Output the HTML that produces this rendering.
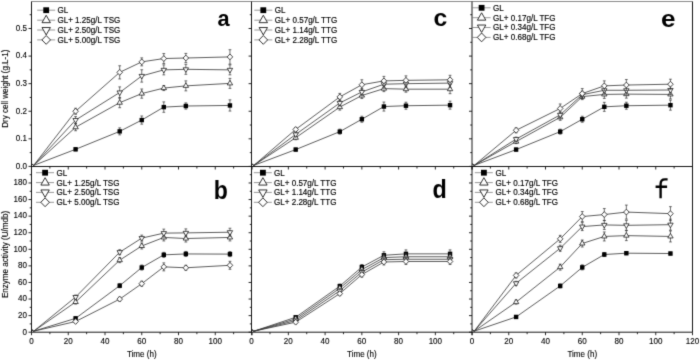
<!DOCTYPE html>
<html><head><meta charset="utf-8"><title>Growth and enzyme activity</title>
<style>
html,body{margin:0;padding:0;background:#fff;}
body{width:700px;height:360px;overflow:hidden;}
svg{display:block;}
text{font-family:"Liberation Sans",sans-serif;fill:#111;}
.lg{font-size:8.4px;fill:#000;stroke:#000;stroke-width:0.15px;}
.tl{font-size:8.4px;fill:#000;stroke:#000;stroke-width:0.12px;}
.pl{font-weight:bold;fill:#000;}
</style></head><body>
<svg width="700" height="360" viewBox="0 0 700 360"><defs><filter id="bl" x="0" y="0" width="700" height="360" filterUnits="userSpaceOnUse" color-interpolation-filters="sRGB"><feConvolveMatrix order="3" kernelMatrix="0.0144 0.0912 0.0144 0.0912 0.5776 0.0912 0.0144 0.0912 0.0144" divisor="1" edgeMode="duplicate"/></filter></defs><g filter="url(#bl)"><rect width="700" height="360" fill="#fff"/><polyline points="31.9,164 33.7,165.4 75.6,149.3 119.7,131.37 141.75,120.07 163.8,107.1 185.85,106 229.95,105.45" fill="none" stroke="#333333" stroke-width="0.8"/><polyline points="31.9,164 33.7,165.4 75.6,127.24 119.7,102.69 141.75,93.59 163.8,88.07 185.85,85.87 229.95,83.38" fill="none" stroke="#333333" stroke-width="0.8"/><polyline points="31.9,164 33.7,165.4 75.6,120.07 119.7,92.49 141.75,75.94 163.8,69.87 185.85,69.32 229.95,69.87" fill="none" stroke="#333333" stroke-width="0.8"/><polyline points="31.9,164 33.7,165.4 75.6,111.24 119.7,72.35 141.75,61.87 163.8,58.56 185.85,58.01 229.95,56.91" fill="none" stroke="#333333" stroke-width="0.8"/><path d="M75.6 147.8V150.8M74.2 147.8H77M74.2 150.8H77" stroke="#333" stroke-width="0.7" fill="none"/><path d="M119.7 127.87V134.87M118.3 127.87H121.1M118.3 134.87H121.1" stroke="#333" stroke-width="0.7" fill="none"/><path d="M141.75 115.97V124.17M140.35 115.97H143.15M140.35 124.17H143.15" stroke="#333" stroke-width="0.7" fill="none"/><path d="M163.8 101.9V112.3M162.4 101.9H165.2M162.4 112.3H165.2" stroke="#333" stroke-width="0.7" fill="none"/><path d="M185.85 102.9V109.1M184.45 102.9H187.25M184.45 109.1H187.25" stroke="#333" stroke-width="0.7" fill="none"/><path d="M229.95 99.85V111.05M228.55 99.85H231.35M228.55 111.05H231.35" stroke="#333" stroke-width="0.7" fill="none"/><rect x="73.4" y="147.1" width="4.4" height="4.4" fill="#000"/><rect x="117.5" y="129.17" width="4.4" height="4.4" fill="#000"/><rect x="139.55" y="117.87" width="4.4" height="4.4" fill="#000"/><rect x="161.6" y="104.9" width="4.4" height="4.4" fill="#000"/><rect x="183.65" y="103.8" width="4.4" height="4.4" fill="#000"/><rect x="227.75" y="103.25" width="4.4" height="4.4" fill="#000"/><path d="M75.6 123.74V130.74M74.2 123.74H77M74.2 130.74H77" stroke="#333" stroke-width="0.7" fill="none"/><path d="M119.7 97.69V107.69M118.3 97.69H121.1M118.3 107.69H121.1" stroke="#333" stroke-width="0.7" fill="none"/><path d="M141.75 88.99V98.19M140.35 88.99H143.15M140.35 98.19H143.15" stroke="#333" stroke-width="0.7" fill="none"/><path d="M163.8 85.57V90.57M162.4 85.57H165.2M162.4 90.57H165.2" stroke="#333" stroke-width="0.7" fill="none"/><path d="M185.85 80.87V90.87M184.45 80.87H187.25M184.45 90.87H187.25" stroke="#333" stroke-width="0.7" fill="none"/><path d="M229.95 78.38V88.38M228.55 78.38H231.35M228.55 88.38H231.35" stroke="#333" stroke-width="0.7" fill="none"/><polygon points="75.6,124.17 78.3,128.77 72.9,128.77" fill="#fff" stroke="#111" stroke-width="0.75"/><polygon points="119.7,99.62 122.4,104.22 117,104.22" fill="#fff" stroke="#111" stroke-width="0.75"/><polygon points="141.75,90.52 144.45,95.12 139.05,95.12" fill="#fff" stroke="#111" stroke-width="0.75"/><polygon points="163.8,85.01 166.5,89.61 161.1,89.61" fill="#fff" stroke="#111" stroke-width="0.75"/><polygon points="185.85,82.8 188.55,87.4 183.15,87.4" fill="#fff" stroke="#111" stroke-width="0.75"/><polygon points="229.95,80.32 232.65,84.92 227.25,84.92" fill="#fff" stroke="#111" stroke-width="0.75"/><path d="M75.6 116.57V123.57M74.2 116.57H77M74.2 123.57H77" stroke="#333" stroke-width="0.7" fill="none"/><path d="M119.7 86.89V98.09M118.3 86.89H121.1M118.3 98.09H121.1" stroke="#333" stroke-width="0.7" fill="none"/><path d="M141.75 69.74V82.14M140.35 69.74H143.15M140.35 82.14H143.15" stroke="#333" stroke-width="0.7" fill="none"/><path d="M163.8 64.87V74.87M162.4 64.87H165.2M162.4 74.87H165.2" stroke="#333" stroke-width="0.7" fill="none"/><path d="M185.85 64.32V74.32M184.45 64.32H187.25M184.45 74.32H187.25" stroke="#333" stroke-width="0.7" fill="none"/><path d="M229.95 64.87V74.87M228.55 64.87H231.35M228.55 74.87H231.35" stroke="#333" stroke-width="0.7" fill="none"/><polygon points="75.6,123.13 78.3,118.53 72.9,118.53" fill="#fff" stroke="#111" stroke-width="0.75"/><polygon points="119.7,95.55 122.4,90.95 117,90.95" fill="#fff" stroke="#111" stroke-width="0.75"/><polygon points="141.75,79 144.45,74.4 139.05,74.4" fill="#fff" stroke="#111" stroke-width="0.75"/><polygon points="163.8,72.94 166.5,68.34 161.1,68.34" fill="#fff" stroke="#111" stroke-width="0.75"/><polygon points="185.85,72.39 188.55,67.79 183.15,67.79" fill="#fff" stroke="#111" stroke-width="0.75"/><polygon points="229.95,72.94 232.65,68.34 227.25,68.34" fill="#fff" stroke="#111" stroke-width="0.75"/><path d="M75.6 108.24V114.24M74.2 108.24H77M74.2 114.24H77" stroke="#333" stroke-width="0.7" fill="none"/><path d="M119.7 65.75V78.95M118.3 65.75H121.1M118.3 78.95H121.1" stroke="#333" stroke-width="0.7" fill="none"/><path d="M141.75 57.87V65.87M140.35 57.87H143.15M140.35 65.87H143.15" stroke="#333" stroke-width="0.7" fill="none"/><path d="M163.8 53.56V63.56M162.4 53.56H165.2M162.4 63.56H165.2" stroke="#333" stroke-width="0.7" fill="none"/><path d="M185.85 53.41V62.61M184.45 53.41H187.25M184.45 62.61H187.25" stroke="#333" stroke-width="0.7" fill="none"/><path d="M229.95 49.71V64.11M228.55 49.71H231.35M228.55 64.11H231.35" stroke="#333" stroke-width="0.7" fill="none"/><polygon points="75.6,108.34 78.4,111.24 75.6,114.14 72.8,111.24" fill="#fff" stroke="#111" stroke-width="0.75"/><polygon points="119.7,69.45 122.5,72.35 119.7,75.25 116.9,72.35" fill="#fff" stroke="#111" stroke-width="0.75"/><polygon points="141.75,58.97 144.55,61.87 141.75,64.77 138.95,61.87" fill="#fff" stroke="#111" stroke-width="0.75"/><polygon points="163.8,55.66 166.6,58.56 163.8,61.46 161,58.56" fill="#fff" stroke="#111" stroke-width="0.75"/><polygon points="185.85,55.11 188.65,58.01 185.85,60.91 183.05,58.01" fill="#fff" stroke="#111" stroke-width="0.75"/><polygon points="229.95,54.01 232.75,56.91 229.95,59.81 227.15,56.91" fill="#fff" stroke="#111" stroke-width="0.75"/><line x1="37.2" y1="10.2" x2="55.2" y2="10.2" stroke="#999" stroke-width="1"/><rect x="43.3" y="7.3" width="5.8" height="5.8" fill="#000"/><text transform="translate(57.4 13.1) scale(0.96 1)" class="lg">GL</text><line x1="37.2" y1="20.2" x2="55.2" y2="20.2" stroke="#999" stroke-width="1"/><polygon points="46.2,15.27 50.4,22.67 42,22.67" fill="#fff" stroke="#111" stroke-width="0.85"/><text transform="translate(57.4 23.1) scale(0.96 1)" class="lg">GL+ 1.25g/L TSG</text><line x1="37.2" y1="30" x2="55.2" y2="30" stroke="#999" stroke-width="1"/><polygon points="46.2,34.93 50.4,27.53 42,27.53" fill="#fff" stroke="#111" stroke-width="0.85"/><text transform="translate(57.4 32.9) scale(0.96 1)" class="lg">GL+ 2.50g/L TSG</text><line x1="37.2" y1="39.9" x2="55.2" y2="39.9" stroke="#999" stroke-width="1"/><polygon points="46.2,35.5 50.5,39.9 46.2,44.3 41.9,39.9" fill="#fff" stroke="#111" stroke-width="0.85"/><text transform="translate(57.4 42.8) scale(0.96 1)" class="lg">GL+ 5.00g/L TSG</text><text transform="translate(217.41 26.13) scale(0.9691 1)" class="pl" font-size="22.45">a</text><polyline points="31.9,329.8 33.7,331.2 75.6,318.36 119.7,285.69 141.75,267.54 163.8,254.85 185.85,253.94 229.95,254.11" fill="none" stroke="#333333" stroke-width="0.8"/><polyline points="31.9,329.8 33.7,331.2 75.6,302.02 119.7,260.16 141.75,245.98 163.8,237.45 185.85,238.52 229.95,237.45" fill="none" stroke="#333333" stroke-width="0.8"/><polyline points="31.9,329.8 33.7,331.2 75.6,297.05 119.7,252.2 141.75,238.11 163.8,233.13 185.85,232.89 229.95,232.22" fill="none" stroke="#333333" stroke-width="0.8"/><polyline points="31.9,329.8 33.7,331.2 75.6,321.51 119.7,299.12 141.75,283.7 163.8,266.87 185.85,267.79 229.95,265.3" fill="none" stroke="#333333" stroke-width="0.8"/><path d="M75.6 316.86V319.86M74.2 316.86H77M74.2 319.86H77" stroke="#333" stroke-width="0.7" fill="none"/><path d="M119.7 283.69V287.69M118.3 283.69H121.1M118.3 287.69H121.1" stroke="#333" stroke-width="0.7" fill="none"/><path d="M141.75 265.04V270.04M140.35 265.04H143.15M140.35 270.04H143.15" stroke="#333" stroke-width="0.7" fill="none"/><path d="M163.8 252.35V257.35M162.4 252.35H165.2M162.4 257.35H165.2" stroke="#333" stroke-width="0.7" fill="none"/><path d="M185.85 251.44V256.44M184.45 251.44H187.25M184.45 256.44H187.25" stroke="#333" stroke-width="0.7" fill="none"/><path d="M229.95 251.61V256.61M228.55 251.61H231.35M228.55 256.61H231.35" stroke="#333" stroke-width="0.7" fill="none"/><rect x="73.4" y="316.16" width="4.4" height="4.4" fill="#000"/><rect x="117.5" y="283.49" width="4.4" height="4.4" fill="#000"/><rect x="139.55" y="265.34" width="4.4" height="4.4" fill="#000"/><rect x="161.6" y="252.65" width="4.4" height="4.4" fill="#000"/><rect x="183.65" y="251.74" width="4.4" height="4.4" fill="#000"/><rect x="227.75" y="251.91" width="4.4" height="4.4" fill="#000"/><path d="M75.6 300.02V304.02M74.2 300.02H77M74.2 304.02H77" stroke="#333" stroke-width="0.7" fill="none"/><path d="M119.7 257.66V262.66M118.3 257.66H121.1M118.3 262.66H121.1" stroke="#333" stroke-width="0.7" fill="none"/><path d="M141.75 242.98V248.98M140.35 242.98H143.15M140.35 248.98H143.15" stroke="#333" stroke-width="0.7" fill="none"/><path d="M163.8 233.95V240.95M162.4 233.95H165.2M162.4 240.95H165.2" stroke="#333" stroke-width="0.7" fill="none"/><path d="M185.85 235.02V242.02M184.45 235.02H187.25M184.45 242.02H187.25" stroke="#333" stroke-width="0.7" fill="none"/><path d="M229.95 233.95V240.95M228.55 233.95H231.35M228.55 240.95H231.35" stroke="#333" stroke-width="0.7" fill="none"/><polygon points="75.6,298.96 78.3,303.56 72.9,303.56" fill="#fff" stroke="#111" stroke-width="0.75"/><polygon points="119.7,257.09 122.4,261.69 117,261.69" fill="#fff" stroke="#111" stroke-width="0.75"/><polygon points="141.75,242.92 144.45,247.52 139.05,247.52" fill="#fff" stroke="#111" stroke-width="0.75"/><polygon points="163.8,234.38 166.5,238.98 161.1,238.98" fill="#fff" stroke="#111" stroke-width="0.75"/><polygon points="185.85,235.46 188.55,240.06 183.15,240.06" fill="#fff" stroke="#111" stroke-width="0.75"/><polygon points="229.95,234.38 232.65,238.98 227.25,238.98" fill="#fff" stroke="#111" stroke-width="0.75"/><path d="M75.6 295.05V299.05M74.2 295.05H77M74.2 299.05H77" stroke="#333" stroke-width="0.7" fill="none"/><path d="M119.7 249.7V254.7M118.3 249.7H121.1M118.3 254.7H121.1" stroke="#333" stroke-width="0.7" fill="none"/><path d="M141.75 235.11V241.11M140.35 235.11H143.15M140.35 241.11H143.15" stroke="#333" stroke-width="0.7" fill="none"/><path d="M163.8 229.13V237.13M162.4 229.13H165.2M162.4 237.13H165.2" stroke="#333" stroke-width="0.7" fill="none"/><path d="M185.85 228.89V236.89M184.45 228.89H187.25M184.45 236.89H187.25" stroke="#333" stroke-width="0.7" fill="none"/><path d="M229.95 228.22V236.22M228.55 228.22H231.35M228.55 236.22H231.35" stroke="#333" stroke-width="0.7" fill="none"/><polygon points="75.6,300.12 78.3,295.52 72.9,295.52" fill="#fff" stroke="#111" stroke-width="0.75"/><polygon points="119.7,255.27 122.4,250.67 117,250.67" fill="#fff" stroke="#111" stroke-width="0.75"/><polygon points="141.75,241.18 144.45,236.58 139.05,236.58" fill="#fff" stroke="#111" stroke-width="0.75"/><polygon points="163.8,236.2 166.5,231.6 161.1,231.6" fill="#fff" stroke="#111" stroke-width="0.75"/><polygon points="185.85,235.95 188.55,231.35 183.15,231.35" fill="#fff" stroke="#111" stroke-width="0.75"/><polygon points="229.95,235.29 232.65,230.69 227.25,230.69" fill="#fff" stroke="#111" stroke-width="0.75"/><path d="M75.6 320.01V323.01M74.2 320.01H77M74.2 323.01H77" stroke="#333" stroke-width="0.7" fill="none"/><path d="M119.7 297.12V301.12M118.3 297.12H121.1M118.3 301.12H121.1" stroke="#333" stroke-width="0.7" fill="none"/><path d="M141.75 281.2V286.2M140.35 281.2H143.15M140.35 286.2H143.15" stroke="#333" stroke-width="0.7" fill="none"/><path d="M163.8 262.87V270.87M162.4 262.87H165.2M162.4 270.87H165.2" stroke="#333" stroke-width="0.7" fill="none"/><path d="M185.85 265.29V270.29M184.45 265.29H187.25M184.45 270.29H187.25" stroke="#333" stroke-width="0.7" fill="none"/><path d="M229.95 261.3V269.3M228.55 261.3H231.35M228.55 269.3H231.35" stroke="#333" stroke-width="0.7" fill="none"/><polygon points="75.6,318.61 78.4,321.51 75.6,324.41 72.8,321.51" fill="#fff" stroke="#111" stroke-width="0.75"/><polygon points="119.7,296.22 122.5,299.12 119.7,302.02 116.9,299.12" fill="#fff" stroke="#111" stroke-width="0.75"/><polygon points="141.75,280.8 144.55,283.7 141.75,286.6 138.95,283.7" fill="#fff" stroke="#111" stroke-width="0.75"/><polygon points="163.8,263.97 166.6,266.87 163.8,269.77 161,266.87" fill="#fff" stroke="#111" stroke-width="0.75"/><polygon points="185.85,264.89 188.65,267.79 185.85,270.69 183.05,267.79" fill="#fff" stroke="#111" stroke-width="0.75"/><polygon points="229.95,262.4 232.75,265.3 229.95,268.2 227.15,265.3" fill="#fff" stroke="#111" stroke-width="0.75"/><line x1="36" y1="172.7" x2="54" y2="172.7" stroke="#999" stroke-width="1"/><rect x="42.2" y="169.8" width="5.8" height="5.8" fill="#000"/><text transform="translate(56.6 175.6) scale(0.96 1)" class="lg">GL</text><line x1="36" y1="182.6" x2="54" y2="182.6" stroke="#999" stroke-width="1"/><polygon points="45.1,177.67 49.3,185.07 40.9,185.07" fill="#fff" stroke="#111" stroke-width="0.85"/><text transform="translate(56.6 185.5) scale(0.96 1)" class="lg">GL+ 1.25g/L TSG</text><line x1="36" y1="192.4" x2="54" y2="192.4" stroke="#999" stroke-width="1"/><polygon points="45.1,197.33 49.3,189.93 40.9,189.93" fill="#fff" stroke="#111" stroke-width="0.85"/><text transform="translate(56.6 195.3) scale(0.96 1)" class="lg">GL+ 2.50g/L TSG</text><line x1="36" y1="202.3" x2="54" y2="202.3" stroke="#999" stroke-width="1"/><polygon points="45.1,197.9 49.4,202.3 45.1,206.7 40.8,202.3" fill="#fff" stroke="#111" stroke-width="0.85"/><text transform="translate(56.6 205.2) scale(0.96 1)" class="lg">GL+ 5.00g/L TSG</text><text transform="translate(213.83 199.1) scale(0.8898 1)" class="pl" font-size="25.87">b</text><polyline points="252,164 253.81,165.4 295.7,149.58 339.8,131.65 361.85,119.24 383.9,106.55 405.95,105.72 450.05,105.17" fill="none" stroke="#333333" stroke-width="0.8"/><polyline points="252,164 253.81,165.4 295.7,137.72 339.8,107.1 361.85,95.52 383.9,88.62 405.95,89.18 450.05,89.18" fill="none" stroke="#333333" stroke-width="0.8"/><polyline points="252,164 253.81,165.4 295.7,134.41 339.8,102.97 361.85,91.93 383.9,84.21 405.95,83.66 450.05,83.11" fill="none" stroke="#333333" stroke-width="0.8"/><polyline points="252,164 253.81,165.4 295.7,129.44 339.8,96.9 361.85,84.76 383.9,80.9 405.95,80.35 450.05,79.8" fill="none" stroke="#333333" stroke-width="0.8"/><path d="M295.7 148.08V151.08M294.3 148.08H297.1M294.3 151.08H297.1" stroke="#333" stroke-width="0.7" fill="none"/><path d="M339.8 129.15V134.15M338.4 129.15H341.2M338.4 134.15H341.2" stroke="#333" stroke-width="0.7" fill="none"/><path d="M361.85 116.24V122.24M360.45 116.24H363.25M360.45 122.24H363.25" stroke="#333" stroke-width="0.7" fill="none"/><path d="M383.9 102.05V111.05M382.5 102.05H385.3M382.5 111.05H385.3" stroke="#333" stroke-width="0.7" fill="none"/><path d="M405.95 102.22V109.22M404.55 102.22H407.35M404.55 109.22H407.35" stroke="#333" stroke-width="0.7" fill="none"/><path d="M450.05 101.17V109.17M448.65 101.17H451.45M448.65 109.17H451.45" stroke="#333" stroke-width="0.7" fill="none"/><rect x="293.5" y="147.38" width="4.4" height="4.4" fill="#000"/><rect x="337.6" y="129.45" width="4.4" height="4.4" fill="#000"/><rect x="359.65" y="117.04" width="4.4" height="4.4" fill="#000"/><rect x="381.7" y="104.35" width="4.4" height="4.4" fill="#000"/><rect x="403.75" y="103.52" width="4.4" height="4.4" fill="#000"/><rect x="447.85" y="102.97" width="4.4" height="4.4" fill="#000"/><path d="M295.7 135.72V139.72M294.3 135.72H297.1M294.3 139.72H297.1" stroke="#333" stroke-width="0.7" fill="none"/><path d="M339.8 104.1V110.1M338.4 104.1H341.2M338.4 110.1H341.2" stroke="#333" stroke-width="0.7" fill="none"/><path d="M361.85 92.52V98.52M360.45 92.52H363.25M360.45 98.52H363.25" stroke="#333" stroke-width="0.7" fill="none"/><path d="M383.9 85.62V91.62M382.5 85.62H385.3M382.5 91.62H385.3" stroke="#333" stroke-width="0.7" fill="none"/><path d="M405.95 86.18V92.18M404.55 86.18H407.35M404.55 92.18H407.35" stroke="#333" stroke-width="0.7" fill="none"/><path d="M450.05 84.68V93.68M448.65 84.68H451.45M448.65 93.68H451.45" stroke="#333" stroke-width="0.7" fill="none"/><polygon points="295.7,134.65 298.4,139.25 293,139.25" fill="#fff" stroke="#111" stroke-width="0.75"/><polygon points="339.8,104.04 342.5,108.64 337.1,108.64" fill="#fff" stroke="#111" stroke-width="0.75"/><polygon points="361.85,92.45 364.55,97.05 359.15,97.05" fill="#fff" stroke="#111" stroke-width="0.75"/><polygon points="383.9,85.56 386.6,90.16 381.2,90.16" fill="#fff" stroke="#111" stroke-width="0.75"/><polygon points="405.95,86.11 408.65,90.71 403.25,90.71" fill="#fff" stroke="#111" stroke-width="0.75"/><polygon points="450.05,86.11 452.75,90.71 447.35,90.71" fill="#fff" stroke="#111" stroke-width="0.75"/><path d="M295.7 132.41V136.41M294.3 132.41H297.1M294.3 136.41H297.1" stroke="#333" stroke-width="0.7" fill="none"/><path d="M339.8 99.97V105.97M338.4 99.97H341.2M338.4 105.97H341.2" stroke="#333" stroke-width="0.7" fill="none"/><path d="M361.85 88.43V95.43M360.45 88.43H363.25M360.45 95.43H363.25" stroke="#333" stroke-width="0.7" fill="none"/><path d="M383.9 80.21V88.21M382.5 80.21H385.3M382.5 88.21H385.3" stroke="#333" stroke-width="0.7" fill="none"/><path d="M405.95 79.66V87.66M404.55 79.66H407.35M404.55 87.66H407.35" stroke="#333" stroke-width="0.7" fill="none"/><path d="M450.05 78.61V87.61M448.65 78.61H451.45M448.65 87.61H451.45" stroke="#333" stroke-width="0.7" fill="none"/><polygon points="295.7,137.47 298.4,132.87 293,132.87" fill="#fff" stroke="#111" stroke-width="0.75"/><polygon points="339.8,106.03 342.5,101.43 337.1,101.43" fill="#fff" stroke="#111" stroke-width="0.75"/><polygon points="361.85,95 364.55,90.4 359.15,90.4" fill="#fff" stroke="#111" stroke-width="0.75"/><polygon points="383.9,87.28 386.6,82.68 381.2,82.68" fill="#fff" stroke="#111" stroke-width="0.75"/><polygon points="405.95,86.73 408.65,82.13 403.25,82.13" fill="#fff" stroke="#111" stroke-width="0.75"/><polygon points="450.05,86.18 452.75,81.58 447.35,81.58" fill="#fff" stroke="#111" stroke-width="0.75"/><path d="M295.7 127.44V131.44M294.3 127.44H297.1M294.3 131.44H297.1" stroke="#333" stroke-width="0.7" fill="none"/><path d="M339.8 93.4V100.4M338.4 93.4H341.2M338.4 100.4H341.2" stroke="#333" stroke-width="0.7" fill="none"/><path d="M361.85 79.76V89.76M360.45 79.76H363.25M360.45 89.76H363.25" stroke="#333" stroke-width="0.7" fill="none"/><path d="M383.9 76.4V85.4M382.5 76.4H385.3M382.5 85.4H385.3" stroke="#333" stroke-width="0.7" fill="none"/><path d="M405.95 75.85V84.85M404.55 75.85H407.35M404.55 84.85H407.35" stroke="#333" stroke-width="0.7" fill="none"/><path d="M450.05 75.3V84.3M448.65 75.3H451.45M448.65 84.3H451.45" stroke="#333" stroke-width="0.7" fill="none"/><polygon points="295.7,126.54 298.5,129.44 295.7,132.34 292.9,129.44" fill="#fff" stroke="#111" stroke-width="0.75"/><polygon points="339.8,94 342.6,96.9 339.8,99.8 337,96.9" fill="#fff" stroke="#111" stroke-width="0.75"/><polygon points="361.85,81.86 364.65,84.76 361.85,87.66 359.05,84.76" fill="#fff" stroke="#111" stroke-width="0.75"/><polygon points="383.9,78 386.7,80.9 383.9,83.8 381.1,80.9" fill="#fff" stroke="#111" stroke-width="0.75"/><polygon points="405.95,77.45 408.75,80.35 405.95,83.25 403.15,80.35" fill="#fff" stroke="#111" stroke-width="0.75"/><polygon points="450.05,76.9 452.85,79.8 450.05,82.7 447.25,79.8" fill="#fff" stroke="#111" stroke-width="0.75"/><line x1="254.3" y1="10.2" x2="272.3" y2="10.2" stroke="#999" stroke-width="1"/><rect x="260.4" y="7.3" width="5.8" height="5.8" fill="#000"/><text transform="translate(274.8 13.1) scale(0.96 1)" class="lg">GL</text><line x1="254.3" y1="20.2" x2="272.3" y2="20.2" stroke="#999" stroke-width="1"/><polygon points="263.3,15.27 267.5,22.67 259.1,22.67" fill="#fff" stroke="#111" stroke-width="0.85"/><text transform="translate(274.8 23.1) scale(0.96 1)" class="lg">GL+ 0.57g/L TTG</text><line x1="254.3" y1="30" x2="272.3" y2="30" stroke="#999" stroke-width="1"/><polygon points="263.3,34.93 267.5,27.53 259.1,27.53" fill="#fff" stroke="#111" stroke-width="0.85"/><text transform="translate(274.8 32.9) scale(0.96 1)" class="lg">GL+ 1.14g/L TTG</text><line x1="254.3" y1="39.9" x2="272.3" y2="39.9" stroke="#999" stroke-width="1"/><polygon points="263.3,35.5 267.6,39.9 263.3,44.3 259,39.9" fill="#fff" stroke="#111" stroke-width="0.85"/><text transform="translate(274.8 42.8) scale(0.96 1)" class="lg">GL+ 2.28g/L TTG</text><text transform="translate(433.38 26.31) scale(1.0254 1)" class="pl" font-size="24.09">c</text><polyline points="252,329.8 253.81,331.2 295.7,317.28 339.8,286.11 361.85,267.04 383.9,255.27 405.95,253.86 450.05,253.86" fill="none" stroke="#333333" stroke-width="0.8"/><polyline points="252,329.8 253.81,331.2 295.7,318.94 339.8,288.26 361.85,269.61 383.9,257.59 405.95,256.76 450.05,256.76" fill="none" stroke="#333333" stroke-width="0.8"/><polyline points="252,329.8 253.81,331.2 295.7,320.59 339.8,290.75 361.85,272.1 383.9,259.66 405.95,259.25 450.05,259.25" fill="none" stroke="#333333" stroke-width="0.8"/><polyline points="252,329.8 253.81,331.2 295.7,322.17 339.8,293.57 361.85,274.58 383.9,261.98 405.95,261.49 450.05,261.49" fill="none" stroke="#333333" stroke-width="0.8"/><path d="M295.7 315.78V318.78M294.3 315.78H297.1M294.3 318.78H297.1" stroke="#333" stroke-width="0.7" fill="none"/><path d="M339.8 284.11V288.11M338.4 284.11H341.2M338.4 288.11H341.2" stroke="#333" stroke-width="0.7" fill="none"/><path d="M361.85 264.54V269.54M360.45 264.54H363.25M360.45 269.54H363.25" stroke="#333" stroke-width="0.7" fill="none"/><path d="M383.9 251.77V258.77M382.5 251.77H385.3M382.5 258.77H385.3" stroke="#333" stroke-width="0.7" fill="none"/><path d="M405.95 249.86V257.86M404.55 249.86H407.35M404.55 257.86H407.35" stroke="#333" stroke-width="0.7" fill="none"/><path d="M450.05 249.86V257.86M448.65 249.86H451.45M448.65 257.86H451.45" stroke="#333" stroke-width="0.7" fill="none"/><rect x="293.5" y="315.08" width="4.4" height="4.4" fill="#000"/><rect x="337.6" y="283.91" width="4.4" height="4.4" fill="#000"/><rect x="359.65" y="264.84" width="4.4" height="4.4" fill="#000"/><rect x="381.7" y="253.07" width="4.4" height="4.4" fill="#000"/><rect x="403.75" y="251.66" width="4.4" height="4.4" fill="#000"/><rect x="447.85" y="251.66" width="4.4" height="4.4" fill="#000"/><path d="M295.7 317.44V320.44M294.3 317.44H297.1M294.3 320.44H297.1" stroke="#333" stroke-width="0.7" fill="none"/><path d="M339.8 286.26V290.26M338.4 286.26H341.2M338.4 290.26H341.2" stroke="#333" stroke-width="0.7" fill="none"/><path d="M361.85 267.11V272.11M360.45 267.11H363.25M360.45 272.11H363.25" stroke="#333" stroke-width="0.7" fill="none"/><path d="M383.9 254.59V260.59M382.5 254.59H385.3M382.5 260.59H385.3" stroke="#333" stroke-width="0.7" fill="none"/><path d="M405.95 253.76V259.76M404.55 253.76H407.35M404.55 259.76H407.35" stroke="#333" stroke-width="0.7" fill="none"/><path d="M450.05 253.76V259.76M448.65 253.76H451.45M448.65 259.76H451.45" stroke="#333" stroke-width="0.7" fill="none"/><polygon points="295.7,315.87 298.4,320.47 293,320.47" fill="#fff" stroke="#111" stroke-width="0.75"/><polygon points="339.8,285.2 342.5,289.8 337.1,289.8" fill="#fff" stroke="#111" stroke-width="0.75"/><polygon points="361.85,266.54 364.55,271.14 359.15,271.14" fill="#fff" stroke="#111" stroke-width="0.75"/><polygon points="383.9,254.52 386.6,259.12 381.2,259.12" fill="#fff" stroke="#111" stroke-width="0.75"/><polygon points="405.95,253.69 408.65,258.29 403.25,258.29" fill="#fff" stroke="#111" stroke-width="0.75"/><polygon points="450.05,253.69 452.75,258.29 447.35,258.29" fill="#fff" stroke="#111" stroke-width="0.75"/><path d="M295.7 319.09V322.09M294.3 319.09H297.1M294.3 322.09H297.1" stroke="#333" stroke-width="0.7" fill="none"/><path d="M339.8 288.75V292.75M338.4 288.75H341.2M338.4 292.75H341.2" stroke="#333" stroke-width="0.7" fill="none"/><path d="M361.85 269.6V274.6M360.45 269.6H363.25M360.45 274.6H363.25" stroke="#333" stroke-width="0.7" fill="none"/><path d="M383.9 256.66V262.66M382.5 256.66H385.3M382.5 262.66H385.3" stroke="#333" stroke-width="0.7" fill="none"/><path d="M405.95 256.25V262.25M404.55 256.25H407.35M404.55 262.25H407.35" stroke="#333" stroke-width="0.7" fill="none"/><path d="M450.05 256.25V262.25M448.65 256.25H451.45M448.65 262.25H451.45" stroke="#333" stroke-width="0.7" fill="none"/><polygon points="295.7,323.66 298.4,319.06 293,319.06" fill="#fff" stroke="#111" stroke-width="0.75"/><polygon points="339.8,293.82 342.5,289.22 337.1,289.22" fill="#fff" stroke="#111" stroke-width="0.75"/><polygon points="361.85,275.16 364.55,270.56 359.15,270.56" fill="#fff" stroke="#111" stroke-width="0.75"/><polygon points="383.9,262.73 386.6,258.13 381.2,258.13" fill="#fff" stroke="#111" stroke-width="0.75"/><polygon points="405.95,262.31 408.65,257.71 403.25,257.71" fill="#fff" stroke="#111" stroke-width="0.75"/><polygon points="450.05,262.31 452.75,257.71 447.35,257.71" fill="#fff" stroke="#111" stroke-width="0.75"/><path d="M295.7 320.67V323.67M294.3 320.67H297.1M294.3 323.67H297.1" stroke="#333" stroke-width="0.7" fill="none"/><path d="M339.8 291.57V295.57M338.4 291.57H341.2M338.4 295.57H341.2" stroke="#333" stroke-width="0.7" fill="none"/><path d="M361.85 272.08V277.08M360.45 272.08H363.25M360.45 277.08H363.25" stroke="#333" stroke-width="0.7" fill="none"/><path d="M383.9 258.98V264.98M382.5 258.98H385.3M382.5 264.98H385.3" stroke="#333" stroke-width="0.7" fill="none"/><path d="M405.95 258.49V264.49M404.55 258.49H407.35M404.55 264.49H407.35" stroke="#333" stroke-width="0.7" fill="none"/><path d="M450.05 258.49V264.49M448.65 258.49H451.45M448.65 264.49H451.45" stroke="#333" stroke-width="0.7" fill="none"/><polygon points="295.7,319.27 298.5,322.17 295.7,325.07 292.9,322.17" fill="#fff" stroke="#111" stroke-width="0.75"/><polygon points="339.8,290.67 342.6,293.57 339.8,296.47 337,293.57" fill="#fff" stroke="#111" stroke-width="0.75"/><polygon points="361.85,271.68 364.65,274.58 361.85,277.48 359.05,274.58" fill="#fff" stroke="#111" stroke-width="0.75"/><polygon points="383.9,259.08 386.7,261.98 383.9,264.88 381.1,261.98" fill="#fff" stroke="#111" stroke-width="0.75"/><polygon points="405.95,258.59 408.75,261.49 405.95,264.39 403.15,261.49" fill="#fff" stroke="#111" stroke-width="0.75"/><polygon points="450.05,258.59 452.85,261.49 450.05,264.39 447.25,261.49" fill="#fff" stroke="#111" stroke-width="0.75"/><line x1="253.8" y1="172.7" x2="271.8" y2="172.7" stroke="#999" stroke-width="1"/><rect x="260" y="169.8" width="5.8" height="5.8" fill="#000"/><text transform="translate(274 175.6) scale(0.96 1)" class="lg">GL</text><line x1="253.8" y1="182.6" x2="271.8" y2="182.6" stroke="#999" stroke-width="1"/><polygon points="262.9,177.67 267.1,185.07 258.7,185.07" fill="#fff" stroke="#111" stroke-width="0.85"/><text transform="translate(274 185.5) scale(0.96 1)" class="lg">GL+ 0.57g/L TTG</text><line x1="253.8" y1="192.4" x2="271.8" y2="192.4" stroke="#999" stroke-width="1"/><polygon points="262.9,197.33 267.1,189.93 258.7,189.93" fill="#fff" stroke="#111" stroke-width="0.85"/><text transform="translate(274 195.3) scale(0.96 1)" class="lg">GL+ 1.14g/L TTG</text><line x1="253.8" y1="202.3" x2="271.8" y2="202.3" stroke="#999" stroke-width="1"/><polygon points="262.9,197.9 267.2,202.3 262.9,206.7 258.6,202.3" fill="#fff" stroke="#111" stroke-width="0.85"/><text transform="translate(274 205.2) scale(0.96 1)" class="lg">GL+ 2.28g/L TTG</text><text transform="translate(432.39 198.4) scale(0.9296 1)" class="pl" font-size="25.19">d</text><polyline points="472.4,164 474.2,165.4 516.1,149.58 560.2,131.65 582.25,119.24 604.3,106.83 626.35,105.72 670.45,105.17" fill="none" stroke="#333333" stroke-width="0.8"/><polyline points="472.4,164 474.2,165.4 516.1,141.58 560.2,117.31 582.25,96.62 604.3,94.42 626.35,94.14 670.45,94.42" fill="none" stroke="#333333" stroke-width="0.8"/><polyline points="472.4,164 474.2,165.4 516.1,139.1 560.2,114.83 582.25,94.69 604.3,90.28 626.35,90.28 670.45,90" fill="none" stroke="#333333" stroke-width="0.8"/><polyline points="472.4,164 474.2,165.4 516.1,130.27 560.2,108.48 582.25,93.59 604.3,85.87 626.35,85.04 670.45,84.21" fill="none" stroke="#333333" stroke-width="0.8"/><path d="M516.1 148.08V151.08M514.7 148.08H517.5M514.7 151.08H517.5" stroke="#333" stroke-width="0.7" fill="none"/><path d="M560.2 129.15V134.15M558.8 129.15H561.6M558.8 134.15H561.6" stroke="#333" stroke-width="0.7" fill="none"/><path d="M582.25 116.24V122.24M580.85 116.24H583.65M580.85 122.24H583.65" stroke="#333" stroke-width="0.7" fill="none"/><path d="M604.3 102.33V111.33M602.9 102.33H605.7M602.9 111.33H605.7" stroke="#333" stroke-width="0.7" fill="none"/><path d="M626.35 102.22V109.22M624.95 102.22H627.75M624.95 109.22H627.75" stroke="#333" stroke-width="0.7" fill="none"/><path d="M670.45 100.17V110.17M669.05 100.17H671.85M669.05 110.17H671.85" stroke="#333" stroke-width="0.7" fill="none"/><rect x="513.9" y="147.38" width="4.4" height="4.4" fill="#000"/><rect x="558" y="129.45" width="4.4" height="4.4" fill="#000"/><rect x="580.05" y="117.04" width="4.4" height="4.4" fill="#000"/><rect x="602.1" y="104.63" width="4.4" height="4.4" fill="#000"/><rect x="624.15" y="103.52" width="4.4" height="4.4" fill="#000"/><rect x="668.25" y="102.97" width="4.4" height="4.4" fill="#000"/><path d="M516.1 139.58V143.58M514.7 139.58H517.5M514.7 143.58H517.5" stroke="#333" stroke-width="0.7" fill="none"/><path d="M560.2 114.31V120.31M558.8 114.31H561.6M558.8 120.31H561.6" stroke="#333" stroke-width="0.7" fill="none"/><path d="M582.25 93.62V99.62M580.85 93.62H583.65M580.85 99.62H583.65" stroke="#333" stroke-width="0.7" fill="none"/><path d="M604.3 90.42V98.42M602.9 90.42H605.7M602.9 98.42H605.7" stroke="#333" stroke-width="0.7" fill="none"/><path d="M626.35 90.14V98.14M624.95 90.14H627.75M624.95 98.14H627.75" stroke="#333" stroke-width="0.7" fill="none"/><path d="M670.45 89.92V98.92M669.05 89.92H671.85M669.05 98.92H671.85" stroke="#333" stroke-width="0.7" fill="none"/><polygon points="516.1,138.51 518.8,143.11 513.4,143.11" fill="#fff" stroke="#111" stroke-width="0.75"/><polygon points="560.2,114.24 562.9,118.84 557.5,118.84" fill="#fff" stroke="#111" stroke-width="0.75"/><polygon points="582.25,93.56 584.95,98.16 579.55,98.16" fill="#fff" stroke="#111" stroke-width="0.75"/><polygon points="604.3,91.35 607,95.95 601.6,95.95" fill="#fff" stroke="#111" stroke-width="0.75"/><polygon points="626.35,91.07 629.05,95.67 623.65,95.67" fill="#fff" stroke="#111" stroke-width="0.75"/><polygon points="670.45,91.35 673.15,95.95 667.75,95.95" fill="#fff" stroke="#111" stroke-width="0.75"/><path d="M516.1 137.1V141.1M514.7 137.1H517.5M514.7 141.1H517.5" stroke="#333" stroke-width="0.7" fill="none"/><path d="M560.2 111.83V117.83M558.8 111.83H561.6M558.8 117.83H561.6" stroke="#333" stroke-width="0.7" fill="none"/><path d="M582.25 91.19V98.19M580.85 91.19H583.65M580.85 98.19H583.65" stroke="#333" stroke-width="0.7" fill="none"/><path d="M604.3 86.28V94.28M602.9 86.28H605.7M602.9 94.28H605.7" stroke="#333" stroke-width="0.7" fill="none"/><path d="M626.35 86.28V94.28M624.95 86.28H627.75M624.95 94.28H627.75" stroke="#333" stroke-width="0.7" fill="none"/><path d="M670.45 85.5V94.5M669.05 85.5H671.85M669.05 94.5H671.85" stroke="#333" stroke-width="0.7" fill="none"/><polygon points="516.1,142.16 518.8,137.56 513.4,137.56" fill="#fff" stroke="#111" stroke-width="0.75"/><polygon points="560.2,117.89 562.9,113.29 557.5,113.29" fill="#fff" stroke="#111" stroke-width="0.75"/><polygon points="582.25,97.76 584.95,93.16 579.55,93.16" fill="#fff" stroke="#111" stroke-width="0.75"/><polygon points="604.3,93.35 607,88.75 601.6,88.75" fill="#fff" stroke="#111" stroke-width="0.75"/><polygon points="626.35,93.35 629.05,88.75 623.65,88.75" fill="#fff" stroke="#111" stroke-width="0.75"/><polygon points="670.45,93.07 673.15,88.47 667.75,88.47" fill="#fff" stroke="#111" stroke-width="0.75"/><path d="M516.1 127.77V132.77M514.7 127.77H517.5M514.7 132.77H517.5" stroke="#333" stroke-width="0.7" fill="none"/><path d="M560.2 103.98V112.98M558.8 103.98H561.6M558.8 112.98H561.6" stroke="#333" stroke-width="0.7" fill="none"/><path d="M582.25 88.59V98.59M580.85 88.59H583.65M580.85 98.59H583.65" stroke="#333" stroke-width="0.7" fill="none"/><path d="M604.3 80.87V90.87M602.9 80.87H605.7M602.9 90.87H605.7" stroke="#333" stroke-width="0.7" fill="none"/><path d="M626.35 79.54V90.54M624.95 79.54H627.75M624.95 90.54H627.75" stroke="#333" stroke-width="0.7" fill="none"/><path d="M670.45 79.21V89.21M669.05 79.21H671.85M669.05 89.21H671.85" stroke="#333" stroke-width="0.7" fill="none"/><polygon points="516.1,127.37 518.9,130.27 516.1,133.17 513.3,130.27" fill="#fff" stroke="#111" stroke-width="0.75"/><polygon points="560.2,105.58 563,108.48 560.2,111.38 557.4,108.48" fill="#fff" stroke="#111" stroke-width="0.75"/><polygon points="582.25,90.69 585.05,93.59 582.25,96.49 579.45,93.59" fill="#fff" stroke="#111" stroke-width="0.75"/><polygon points="604.3,82.97 607.1,85.87 604.3,88.77 601.5,85.87" fill="#fff" stroke="#111" stroke-width="0.75"/><polygon points="626.35,82.14 629.15,85.04 626.35,87.94 623.55,85.04" fill="#fff" stroke="#111" stroke-width="0.75"/><polygon points="670.45,81.31 673.25,84.21 670.45,87.11 667.65,84.21" fill="#fff" stroke="#111" stroke-width="0.75"/><line x1="472.6" y1="7.8" x2="490.6" y2="7.8" stroke="#999" stroke-width="1"/><rect x="478.7" y="4.9" width="5.8" height="5.8" fill="#000"/><text transform="translate(493.1 10.7) scale(0.96 1)" class="lg">GL</text><line x1="472.6" y1="17.7" x2="490.6" y2="17.7" stroke="#999" stroke-width="1"/><polygon points="481.6,12.77 485.8,20.17 477.4,20.17" fill="#fff" stroke="#111" stroke-width="0.85"/><text transform="translate(493.1 20.6) scale(0.96 1)" class="lg">GL+ 0.17g/L TFG</text><line x1="472.6" y1="27.5" x2="490.6" y2="27.5" stroke="#999" stroke-width="1"/><polygon points="481.6,32.43 485.8,25.03 477.4,25.03" fill="#fff" stroke="#111" stroke-width="0.85"/><text transform="translate(493.1 30.4) scale(0.96 1)" class="lg">GL+ 0.34g/L TFG</text><line x1="472.6" y1="37.4" x2="490.6" y2="37.4" stroke="#999" stroke-width="1"/><polygon points="481.6,33 485.9,37.4 481.6,41.8 477.3,37.4" fill="#fff" stroke="#111" stroke-width="0.85"/><text transform="translate(493.1 40.3) scale(0.96 1)" class="lg">GL+ 0.68g/L TFG</text><text transform="translate(661.03 26.61) scale(1.0830 1)" class="pl" font-size="24.09">e</text><polyline points="472.4,329.8 474.2,331.2 516.1,316.95 560.2,285.94 582.25,267.37 604.3,254.52 626.35,253.2 670.45,253.53" fill="none" stroke="#333333" stroke-width="0.8"/><polyline points="472.4,329.8 474.2,331.2 516.1,302.11 560.2,267.12 582.25,243.5 604.3,236.45 626.35,235.62 670.45,236.45" fill="none" stroke="#333333" stroke-width="0.8"/><polyline points="472.4,329.8 474.2,331.2 516.1,283.29 560.2,248.22 582.25,226.59 604.3,224.93 626.35,225.34 670.45,224.68" fill="none" stroke="#333333" stroke-width="0.8"/><polyline points="472.4,329.8 474.2,331.2 516.1,275.41 560.2,238.85 582.25,216.55 604.3,214.56 626.35,212.08 670.45,213.65" fill="none" stroke="#333333" stroke-width="0.8"/><path d="M516.1 315.45V318.45M514.7 315.45H517.5M514.7 318.45H517.5" stroke="#333" stroke-width="0.7" fill="none"/><path d="M560.2 283.94V287.94M558.8 283.94H561.6M558.8 287.94H561.6" stroke="#333" stroke-width="0.7" fill="none"/><path d="M582.25 264.87V269.87M580.85 264.87H583.65M580.85 269.87H583.65" stroke="#333" stroke-width="0.7" fill="none"/><path d="M604.3 252.52V256.52M602.9 252.52H605.7M602.9 256.52H605.7" stroke="#333" stroke-width="0.7" fill="none"/><path d="M626.35 251.7V254.7M624.95 251.7H627.75M624.95 254.7H627.75" stroke="#333" stroke-width="0.7" fill="none"/><path d="M670.45 252.03V255.03M669.05 252.03H671.85M669.05 255.03H671.85" stroke="#333" stroke-width="0.7" fill="none"/><rect x="513.9" y="314.75" width="4.4" height="4.4" fill="#000"/><rect x="558" y="283.74" width="4.4" height="4.4" fill="#000"/><rect x="580.05" y="265.17" width="4.4" height="4.4" fill="#000"/><rect x="602.1" y="252.32" width="4.4" height="4.4" fill="#000"/><rect x="624.15" y="251" width="4.4" height="4.4" fill="#000"/><rect x="668.25" y="251.33" width="4.4" height="4.4" fill="#000"/><path d="M516.1 300.11V304.11M514.7 300.11H517.5M514.7 304.11H517.5" stroke="#333" stroke-width="0.7" fill="none"/><path d="M560.2 264.12V270.12M558.8 264.12H561.6M558.8 270.12H561.6" stroke="#333" stroke-width="0.7" fill="none"/><path d="M582.25 240V247M580.85 240H583.65M580.85 247H583.65" stroke="#333" stroke-width="0.7" fill="none"/><path d="M604.3 231.95V240.95M602.9 231.95H605.7M602.9 240.95H605.7" stroke="#333" stroke-width="0.7" fill="none"/><path d="M626.35 230.62V240.62M624.95 230.62H627.75M624.95 240.62H627.75" stroke="#333" stroke-width="0.7" fill="none"/><path d="M670.45 230.95V241.95M669.05 230.95H671.85M669.05 241.95H671.85" stroke="#333" stroke-width="0.7" fill="none"/><polygon points="516.1,299.04 518.8,303.64 513.4,303.64" fill="#fff" stroke="#111" stroke-width="0.75"/><polygon points="560.2,264.06 562.9,268.66 557.5,268.66" fill="#fff" stroke="#111" stroke-width="0.75"/><polygon points="582.25,240.43 584.95,245.03 579.55,245.03" fill="#fff" stroke="#111" stroke-width="0.75"/><polygon points="604.3,233.38 607,237.98 601.6,237.98" fill="#fff" stroke="#111" stroke-width="0.75"/><polygon points="626.35,232.55 629.05,237.15 623.65,237.15" fill="#fff" stroke="#111" stroke-width="0.75"/><polygon points="670.45,233.38 673.15,237.98 667.75,237.98" fill="#fff" stroke="#111" stroke-width="0.75"/><path d="M516.1 281.29V285.29M514.7 281.29H517.5M514.7 285.29H517.5" stroke="#333" stroke-width="0.7" fill="none"/><path d="M560.2 245.22V251.22M558.8 245.22H561.6M558.8 251.22H561.6" stroke="#333" stroke-width="0.7" fill="none"/><path d="M582.25 222.59V230.59M580.85 222.59H583.65M580.85 230.59H583.65" stroke="#333" stroke-width="0.7" fill="none"/><path d="M604.3 220.43V229.43M602.9 220.43H605.7M602.9 229.43H605.7" stroke="#333" stroke-width="0.7" fill="none"/><path d="M626.35 220.34V230.34M624.95 220.34H627.75M624.95 230.34H627.75" stroke="#333" stroke-width="0.7" fill="none"/><path d="M670.45 219.18V230.18M669.05 219.18H671.85M669.05 230.18H671.85" stroke="#333" stroke-width="0.7" fill="none"/><polygon points="516.1,286.36 518.8,281.76 513.4,281.76" fill="#fff" stroke="#111" stroke-width="0.75"/><polygon points="560.2,251.29 562.9,246.69 557.5,246.69" fill="#fff" stroke="#111" stroke-width="0.75"/><polygon points="582.25,229.65 584.95,225.05 579.55,225.05" fill="#fff" stroke="#111" stroke-width="0.75"/><polygon points="604.3,227.99 607,223.39 601.6,223.39" fill="#fff" stroke="#111" stroke-width="0.75"/><polygon points="626.35,228.41 629.05,223.81 623.65,223.81" fill="#fff" stroke="#111" stroke-width="0.75"/><polygon points="670.45,227.75 673.15,223.15 667.75,223.15" fill="#fff" stroke="#111" stroke-width="0.75"/><path d="M516.1 272.91V277.91M514.7 272.91H517.5M514.7 277.91H517.5" stroke="#333" stroke-width="0.7" fill="none"/><path d="M560.2 235.35V242.35M558.8 235.35H561.6M558.8 242.35H561.6" stroke="#333" stroke-width="0.7" fill="none"/><path d="M582.25 211.55V221.55M580.85 211.55H583.65M580.85 221.55H583.65" stroke="#333" stroke-width="0.7" fill="none"/><path d="M604.3 208.56V220.56M602.9 208.56H605.7M602.9 220.56H605.7" stroke="#333" stroke-width="0.7" fill="none"/><path d="M626.35 205.08V219.08M624.95 205.08H627.75M624.95 219.08H627.75" stroke="#333" stroke-width="0.7" fill="none"/><path d="M670.45 206.65V220.65M669.05 206.65H671.85M669.05 220.65H671.85" stroke="#333" stroke-width="0.7" fill="none"/><polygon points="516.1,272.51 518.9,275.41 516.1,278.31 513.3,275.41" fill="#fff" stroke="#111" stroke-width="0.75"/><polygon points="560.2,235.95 563,238.85 560.2,241.75 557.4,238.85" fill="#fff" stroke="#111" stroke-width="0.75"/><polygon points="582.25,213.65 585.05,216.55 582.25,219.45 579.45,216.55" fill="#fff" stroke="#111" stroke-width="0.75"/><polygon points="604.3,211.66 607.1,214.56 604.3,217.46 601.5,214.56" fill="#fff" stroke="#111" stroke-width="0.75"/><polygon points="626.35,209.18 629.15,212.08 626.35,214.98 623.55,212.08" fill="#fff" stroke="#111" stroke-width="0.75"/><polygon points="670.45,210.75 673.25,213.65 670.45,216.55 667.65,213.65" fill="#fff" stroke="#111" stroke-width="0.75"/><line x1="474.8" y1="172.7" x2="492.8" y2="172.7" stroke="#999" stroke-width="1"/><rect x="481" y="169.8" width="5.8" height="5.8" fill="#000"/><text transform="translate(495.6 175.6) scale(0.96 1)" class="lg">GL</text><line x1="474.8" y1="182.6" x2="492.8" y2="182.6" stroke="#999" stroke-width="1"/><polygon points="483.9,177.67 488.1,185.07 479.7,185.07" fill="#fff" stroke="#111" stroke-width="0.85"/><text transform="translate(495.6 185.5) scale(0.96 1)" class="lg">GL+ 0.17g/L TFG</text><line x1="474.8" y1="192.4" x2="492.8" y2="192.4" stroke="#999" stroke-width="1"/><polygon points="483.9,197.33 488.1,189.93 479.7,189.93" fill="#fff" stroke="#111" stroke-width="0.85"/><text transform="translate(495.6 195.3) scale(0.96 1)" class="lg">GL+ 0.34g/L TFG</text><line x1="474.8" y1="202.3" x2="492.8" y2="202.3" stroke="#999" stroke-width="1"/><polygon points="483.9,197.9 488.2,202.3 483.9,206.7 479.6,202.3" fill="#fff" stroke="#111" stroke-width="0.85"/><text transform="translate(495.6 205.2) scale(0.96 1)" class="lg">GL+ 0.68g/L TFG</text><path d="M660.6 198.2V184C660.6 180.6 662 179.4 665 179.4H667.6M655.6 186.7H667.1" fill="none" stroke="#000" stroke-width="2.35"/><path d="M31.5 1.5H692.5" fill="none" stroke="#8a8a8a" stroke-width="1"/><path d="M692.5 1.5V332.2H31.5V1.5M31.5 166.5H692.5M251.5 1.5V332.2M472 1.5V332.2" fill="none" stroke="#161616" stroke-width="1"/><path d="M31.5 166.5V169.5M49.88 166.5V168.5M68.25 166.5V169.5M86.62 166.5V168.5M105 166.5V169.5M123.38 166.5V168.5M141.75 166.5V169.5M160.12 166.5V168.5M178.5 166.5V169.5M196.88 166.5V168.5M215.25 166.5V169.5M233.62 166.5V168.5M252 166.5V169.5M31.5 332.2V335.2M49.88 332.2V334.2M68.25 332.2V335.2M86.62 332.2V334.2M105 332.2V335.2M123.38 332.2V334.2M141.75 332.2V335.2M160.12 332.2V334.2M178.5 332.2V335.2M196.88 332.2V334.2M215.25 332.2V335.2M233.62 332.2V334.2M252 332.2V335.2M31.5 166.4H28.5M31.5 152.61H29.7M31.5 138.82H28.5M31.5 125.03H29.7M31.5 111.24H28.5M31.5 97.45H29.7M31.5 83.66H28.5M31.5 69.87H29.7M31.5 56.08H28.5M31.5 42.29H29.7M31.5 28.5H28.5M31.5 14.71H29.7M31.5 332.2H28.5M31.5 323.91H29.7M31.5 315.62H28.5M31.5 307.33H29.7M31.5 299.04H28.5M31.5 290.75H29.7M31.5 282.46H28.5M31.5 274.17H29.7M31.5 265.88H28.5M31.5 257.59H29.7M31.5 249.3H28.5M31.5 241.01H29.7M31.5 232.72H28.5M31.5 224.43H29.7M31.5 216.14H28.5M31.5 207.85H29.7M31.5 199.56H28.5M31.5 191.27H29.7M31.5 182.98H28.5M31.5 174.69H29.7M251.6 166.5V169.5M269.98 166.5V168.5M288.35 166.5V169.5M306.73 166.5V168.5M325.1 166.5V169.5M343.48 166.5V168.5M361.85 166.5V169.5M380.23 166.5V168.5M398.6 166.5V169.5M416.98 166.5V168.5M435.35 166.5V169.5M453.73 166.5V168.5M472.1 166.5V169.5M251.6 332.2V335.2M269.98 332.2V334.2M288.35 332.2V335.2M306.73 332.2V334.2M325.1 332.2V335.2M343.48 332.2V334.2M361.85 332.2V335.2M380.23 332.2V334.2M398.6 332.2V335.2M416.98 332.2V334.2M435.35 332.2V335.2M453.73 332.2V334.2M472.1 332.2V335.2M251.6 166.4H248.6M251.6 152.61H249.8M251.6 138.82H248.6M251.6 125.03H249.8M251.6 111.24H248.6M251.6 97.45H249.8M251.6 83.66H248.6M251.6 69.87H249.8M251.6 56.08H248.6M251.6 42.29H249.8M251.6 28.5H248.6M251.6 14.71H249.8M251.6 332.2H248.6M251.6 323.91H249.8M251.6 315.62H248.6M251.6 307.33H249.8M251.6 299.04H248.6M251.6 290.75H249.8M251.6 282.46H248.6M251.6 274.17H249.8M251.6 265.88H248.6M251.6 257.59H249.8M251.6 249.3H248.6M251.6 241.01H249.8M251.6 232.72H248.6M251.6 224.43H249.8M251.6 216.14H248.6M251.6 207.85H249.8M251.6 199.56H248.6M251.6 191.27H249.8M251.6 182.98H248.6M251.6 174.69H249.8M472 166.5V169.5M490.38 166.5V168.5M508.75 166.5V169.5M527.12 166.5V168.5M545.5 166.5V169.5M563.88 166.5V168.5M582.25 166.5V169.5M600.62 166.5V168.5M619 166.5V169.5M637.38 166.5V168.5M655.75 166.5V169.5M674.12 166.5V168.5M692.5 166.5V169.5M472 332.2V335.2M490.38 332.2V334.2M508.75 332.2V335.2M527.12 332.2V334.2M545.5 332.2V335.2M563.88 332.2V334.2M582.25 332.2V335.2M600.62 332.2V334.2M619 332.2V335.2M637.38 332.2V334.2M655.75 332.2V335.2M674.12 332.2V334.2M692.5 332.2V335.2M472 166.4H469M472 152.61H470.2M472 138.82H469M472 125.03H470.2M472 111.24H469M472 97.45H470.2M472 83.66H469M472 69.87H470.2M472 56.08H469M472 42.29H470.2M472 28.5H469M472 14.71H470.2M472 332.2H469M472 323.91H470.2M472 315.62H469M472 307.33H470.2M472 299.04H469M472 290.75H470.2M472 282.46H469M472 274.17H470.2M472 265.88H469M472 257.59H470.2M472 249.3H469M472 241.01H470.2M472 232.72H469M472 224.43H470.2M472 216.14H469M472 207.85H470.2M472 199.56H469M472 191.27H470.2M472 182.98H469M472 174.69H470.2" stroke="#111" stroke-width="0.9" fill="none"/><text transform="translate(27 168.7) scale(0.96 1)" class="tl" text-anchor="end">0.0</text><text transform="translate(27 141.12) scale(0.96 1)" class="tl" text-anchor="end">0.1</text><text transform="translate(27 113.54) scale(0.96 1)" class="tl" text-anchor="end">0.2</text><text transform="translate(27 85.96) scale(0.96 1)" class="tl" text-anchor="end">0.3</text><text transform="translate(27 58.38) scale(0.96 1)" class="tl" text-anchor="end">0.4</text><text transform="translate(27 30.8) scale(0.96 1)" class="tl" text-anchor="end">0.5</text><text transform="translate(27 334.5) scale(0.96 1)" class="tl" text-anchor="end">0</text><text transform="translate(27 317.92) scale(0.96 1)" class="tl" text-anchor="end">20</text><text transform="translate(27 301.34) scale(0.96 1)" class="tl" text-anchor="end">40</text><text transform="translate(27 284.76) scale(0.96 1)" class="tl" text-anchor="end">60</text><text transform="translate(27 268.18) scale(0.96 1)" class="tl" text-anchor="end">80</text><text transform="translate(27 251.6) scale(0.96 1)" class="tl" text-anchor="end">100</text><text transform="translate(27 235.02) scale(0.96 1)" class="tl" text-anchor="end">120</text><text transform="translate(27 218.44) scale(0.96 1)" class="tl" text-anchor="end">140</text><text transform="translate(27 201.86) scale(0.96 1)" class="tl" text-anchor="end">160</text><text transform="translate(27 185.28) scale(0.96 1)" class="tl" text-anchor="end">180</text><text transform="translate(31.5 343.6) scale(0.96 1)" class="tl" text-anchor="middle">0</text><text transform="translate(68.25 343.6) scale(0.96 1)" class="tl" text-anchor="middle">20</text><text transform="translate(105 343.6) scale(0.96 1)" class="tl" text-anchor="middle">40</text><text transform="translate(141.75 343.6) scale(0.96 1)" class="tl" text-anchor="middle">60</text><text transform="translate(178.5 343.6) scale(0.96 1)" class="tl" text-anchor="middle">80</text><text transform="translate(215.25 343.6) scale(0.96 1)" class="tl" text-anchor="middle">100</text><text transform="translate(141.75 357.3) scale(0.96 1)" class="tl" text-anchor="middle">Time (h)</text><text transform="translate(251.6 343.6) scale(0.96 1)" class="tl" text-anchor="middle">0</text><text transform="translate(288.35 343.6) scale(0.96 1)" class="tl" text-anchor="middle">20</text><text transform="translate(325.1 343.6) scale(0.96 1)" class="tl" text-anchor="middle">40</text><text transform="translate(361.85 343.6) scale(0.96 1)" class="tl" text-anchor="middle">60</text><text transform="translate(398.6 343.6) scale(0.96 1)" class="tl" text-anchor="middle">80</text><text transform="translate(435.35 343.6) scale(0.96 1)" class="tl" text-anchor="middle">100</text><text transform="translate(361.85 357.3) scale(0.96 1)" class="tl" text-anchor="middle">Time (h)</text><text transform="translate(472 343.6) scale(0.96 1)" class="tl" text-anchor="middle">0</text><text transform="translate(508.75 343.6) scale(0.96 1)" class="tl" text-anchor="middle">20</text><text transform="translate(545.5 343.6) scale(0.96 1)" class="tl" text-anchor="middle">40</text><text transform="translate(582.25 343.6) scale(0.96 1)" class="tl" text-anchor="middle">60</text><text transform="translate(619 343.6) scale(0.96 1)" class="tl" text-anchor="middle">80</text><text transform="translate(655.75 343.6) scale(0.96 1)" class="tl" text-anchor="middle">100</text><text transform="translate(692.5 343.6) scale(0.96 1)" class="tl" text-anchor="middle">120</text><text transform="translate(582.25 357.3) scale(0.96 1)" class="tl" text-anchor="middle">Time (h)</text><text transform="translate(7.7 88.7) rotate(-90) scale(0.96 1)" class="tl" text-anchor="middle">Dry cell weight (g.L-1)</text><text transform="translate(7.7 254.5) rotate(-90) scale(0.96 1)" class="tl" text-anchor="middle">Enzyme activity (U/mdb)</text></g></svg>
</body></html>
